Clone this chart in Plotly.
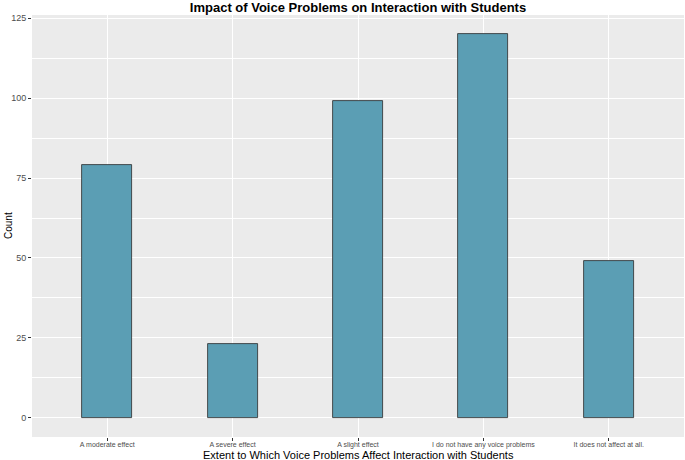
import plotly.graph_objects as go

categories = ["A moderate effect", "A severe effect", "A slight effect",
              "I do not have any voice problems", "It does not affect at all."]
counts = [79, 23, 99, 120, 49]
y_ticks = [0, 25, 50, 75, 100, 125]

fig = go.Figure(go.Bar(
    x=categories, y=counts, width=0.4,
    marker=dict(color="#5B9EB4", line=dict(color="#2b2b2b", width=0.8)),
))

H = 460
fig.update_layout(
    width=685, height=H,
    margin=dict(l=32, r=1, t=15, b=23),
    paper_bgcolor="white", plot_bgcolor="#EBEBEB",
    font=dict(family="Liberation Sans, Arial, sans-serif"),
    title=dict(text="<b>Impact of Voice Problems on Interaction with Students</b>",
               x=358 / 685, xanchor="center", xref="container",
               y=1 - 7 / H, yanchor="middle", yref="container",
               font=dict(size=13, color="black")),
    showlegend=False, bargap=0,
    annotations=[
        dict(text="Extent to Which Voice Problems Affect Interaction with Students",
             xref="paper", yref="paper", x=0.5, y=-(455.5 - 437) / (437 - 15),
             xanchor="center", yanchor="middle", showarrow=False,
             font=dict(size=11, color="black")),
        dict(text="Count", xref="paper", yref="paper",
             x=-(32 - 8) / (684 - 32), y=0.5, textangle=-90,
             xanchor="center", yanchor="middle", showarrow=False,
             font=dict(size=10, color="black")),
    ],
)
fig.update_xaxes(
    range=[-0.6, 4.6], showgrid=True, gridcolor="white", gridwidth=1,
    ticks="outside", ticklen=3, tickcolor="#333333", ticklabelstandoff=-2,
    tickfont=dict(size=7, color="#4D4D4D"), automargin=False,
    zeroline=False,
)
fig.update_yaxes(
    range=[-6, 126], tickvals=y_ticks, showgrid=True, gridcolor="white", gridwidth=1,
    minor=dict(tick0=0, dtick=12.5, showgrid=True, gridcolor="white", gridwidth=0.5),
    ticks="outside", ticklen=3, tickcolor="#333333",
    tickfont=dict(size=9, color="#4D4D4D"), automargin=False,
    zeroline=False,
)

fig.write_html("out.html", config={"displayModeBar": False},
               post_script="document.body.style.margin='0';document.body.style.overflow='hidden';")
